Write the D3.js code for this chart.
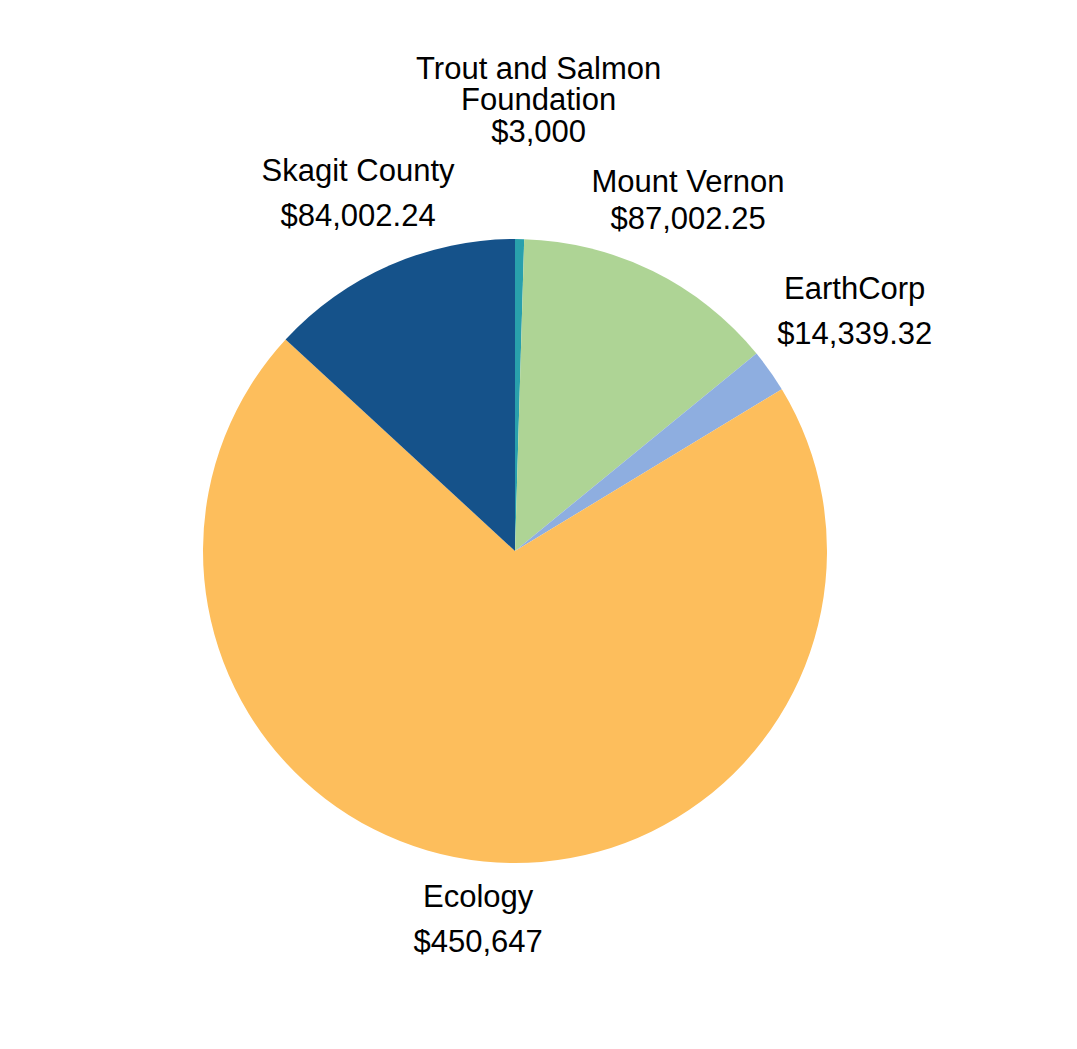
<!DOCTYPE html>
<html>
<head>
<meta charset="utf-8">
<script src="https://cdn.jsdelivr.net/npm/d3@7"></script>
<style>
  body { margin: 0; background: #fff; }
  svg { display: block; }
</style>
</head>
<body>
<div id="chart"></div>
<script>
const categories = ['Trout and Salmon Foundation', 'Mount Vernon', 'EarthCorp', 'Ecology', 'Skagit County']
const amounts = [3000, 87002.25, 14339.32, 450647, 84002.24]
const valueLabels = ['$3,000', '$87,002.25', '$14,339.32', '$450,647', '$84,002.24']
const colors = ['#29a0ac', '#aed495', '#8eaee0', '#fdbe5c', '#15528a']

const width = 1077
const height = 1049
const cx = 515
const cy = 551
const radius = 312
const fontSize = 31

// label placement: distance of label block centre from pie centre, extra x shift, line gap
const labelLayout = {
  'Trout and Salmon Foundation': { r: 452, dx: 17, gap: 31.5 },
  'Mount Vernon': { r: 392, dx: 0, gap: 37 },
  EarthCorp: { r: 416, dx: 0, gap: 45 },
  Ecology: { r: 369, dx: 0, gap: 45 },
  'Skagit County': { r: 391, dx: 0, gap: 45 }
}

const data = categories.map((c, i) => ({ name: c, value: amounts[i], label: valueLabels[i], color: colors[i] }))

const svg = d3.select('#chart').append('svg').attr('width', width).attr('height', height)

const pie = d3.pie().sort(null).value((d) => d.value)
const arc = d3.arc().innerRadius(0).outerRadius(radius)
const arcs = pie(data)

const g = svg.append('g').attr('transform', `translate(${cx},${cy})`)

g.selectAll('path.slice')
  .data(arcs)
  .join('path')
  .attr('class', 'slice')
  .attr('d', arc)
  .attr('fill', (d) => d.data.color)

// wrap long names into lines no wider than maxW
const measure = svg.append('text').attr('font-family', 'Liberation Sans, Arial, sans-serif').attr('font-size', fontSize)
const wrap = (str, maxW) => {
  const words = str.split(' ')
  const lines = []
  let cur = ''
  words.forEach((w) => {
    const test = cur ? cur + ' ' + w : w
    measure.text(test)
    if (measure.node().getComputedTextLength() > maxW && cur) {
      lines.push(cur)
      cur = w
    } else {
      cur = test
    }
  })
  if (cur) lines.push(cur)
  return lines
}

const labels = g.selectAll('text.label')
  .data(arcs)
  .join('text')
  .attr('class', 'label')
  .attr('font-family', 'Liberation Sans, Arial, sans-serif')
  .attr('font-size', fontSize)
  .attr('fill', '#000')
  .attr('text-anchor', 'middle')

labels.each(function (d) {
  const lay = labelLayout[d.data.name]
  const lines = wrap(d.data.name, 260).concat([d.data.label])
  const mid = (d.startAngle + d.endAngle) / 2
  const x = Math.sin(mid) * lay.r + lay.dx
  const yc = -Math.cos(mid) * lay.r
  const cap = fontSize * 0.716
  const blockH = cap + lay.gap * (lines.length - 1)
  const y0 = yc - blockH / 2 + cap
  d3.select(this)
    .selectAll('tspan')
    .data(lines)
    .join('tspan')
    .attr('x', x)
    .attr('y', (l, i) => y0 + i * lay.gap)
    .text((l) => l)
})

measure.remove()
</script>
</body>
</html>
